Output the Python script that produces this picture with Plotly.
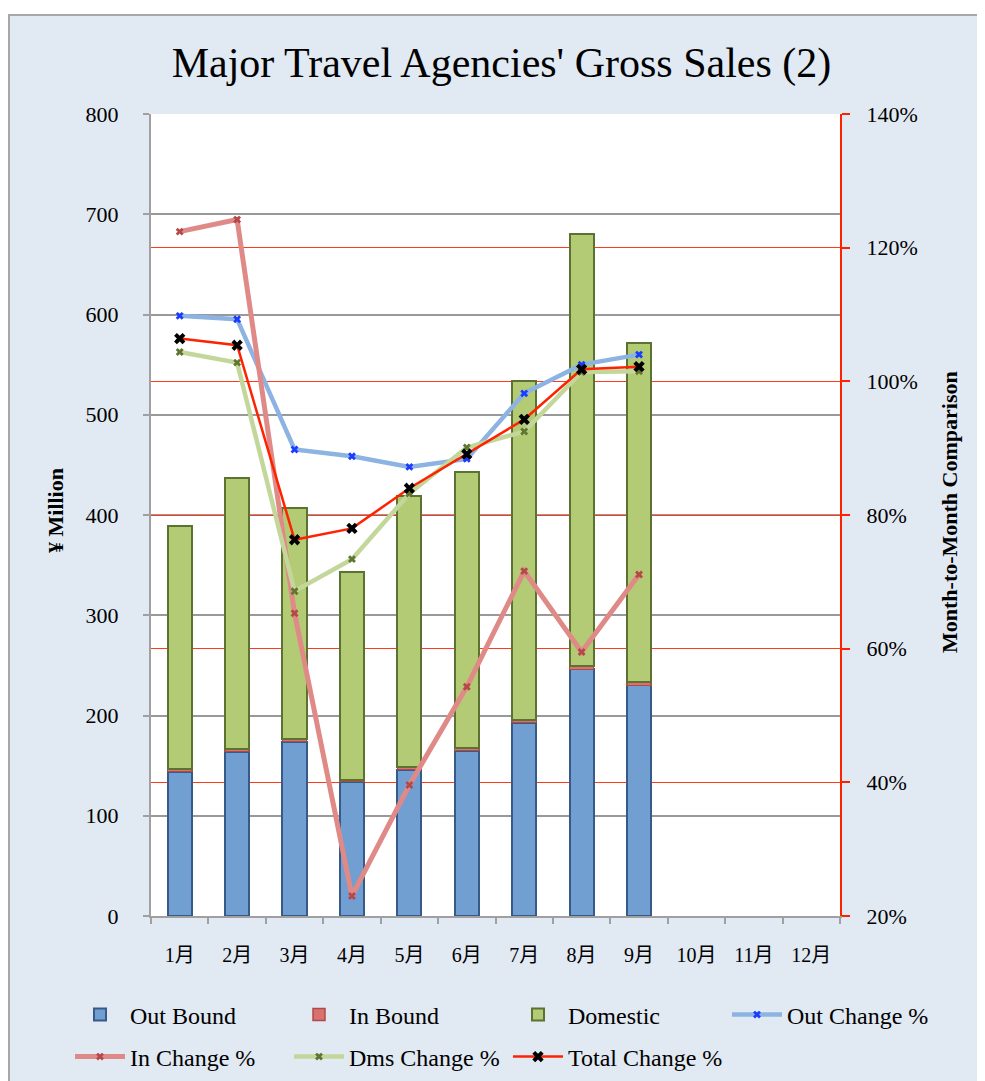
import plotly.graph_objects as go

# ---- data ----
months = ['1月', '2月', '3月', '4月', '5月', '6月', '7月', '8月', '9月', '10月', '11月', '12月']
data_months = months[:9]
out_bound = [144, 164, 174, 134, 146, 165, 193, 246, 230]
in_bound = [3, 3, 3, 2, 3, 3, 3, 3, 3]
domestic = [242, 270, 230, 207, 270, 275, 338, 431, 339]

out_chg = [109.8, 109.3, 89.8, 88.8, 87.2, 88.4, 98.2, 102.5, 104.0]
in_chg = [122.4, 124.2, 65.3, 23.0, 39.6, 54.3, 71.6, 59.5, 71.1]
dms_chg = [104.4, 102.8, 68.6, 73.4, 83.2, 90.1, 92.5, 101.4, 101.5]
total_chg = [106.4, 105.4, 76.3, 78.0, 84.0, 89.1, 94.3, 101.8, 102.2]

# ---- layout geometry (page pixels; the page body has an 8px margin) ----
OFF = 8
W, H = 985 - OFF, 1081 - OFF
PLOT_L, PLOT_R, PLOT_T, PLOT_B = 151, 840, 114, 916
ML = PLOT_L - OFF
MT = PLOT_T - OFF
MR = 10
GW = W - ML - MR
GH = PLOT_B - PLOT_T
MB = H - MT - GH


def px_x(p):
    """page x pixel -> paper x"""
    return (p - OFF - ML) / GW


def px_y(p):
    """page y pixel -> paper y"""
    return (PLOT_B - p) / GH


FONT = 'Liberation Serif, Noto Sans CJK JP, serif'
BG = '#E1E9F3'

fig = go.Figure()

fig.add_trace(go.Bar(name='Out Bound', x=data_months, y=out_bound,
                     marker=dict(color='#729FD2', line=dict(color='#375A88', width=2)),
                     legend='legend'))
fig.add_trace(go.Bar(name='In Bound', x=data_months, y=in_bound,
                     marker=dict(color='#D9726F', line=dict(color='#B04A47', width=1.5)),
                     legend='legend'))
fig.add_trace(go.Bar(name='Domestic', x=data_months, y=domestic,
                     marker=dict(color='#B3CB74', line=dict(color='#5C7230', width=2)),
                     legend='legend'))

fig.add_trace(go.Scatter(name='Out Change %', x=data_months, y=out_chg, yaxis='y2',
                         mode='lines+markers',
                         line=dict(color='#8DB3E2', width=4.5),
                         marker=dict(symbol='x', size=7, color='#1A3CFF', line=dict(width=0)),
                         legend='legend'))
fig.add_trace(go.Scatter(name='In Change %', x=data_months, y=in_chg, yaxis='y2',
                         mode='lines+markers',
                         line=dict(color='#E08A88', width=5),
                         marker=dict(symbol='x', size=7, color='#B5494A', line=dict(width=0)),
                         legend='legend2'))
fig.add_trace(go.Scatter(name='Dms Change %', x=data_months, y=dms_chg, yaxis='y2',
                         mode='lines+markers',
                         line=dict(color='#C3D79B', width=4.5),
                         marker=dict(symbol='x', size=7, color='#5F7530', line=dict(width=0)),
                         legend='legend2'))
fig.add_trace(go.Scatter(name='Total Change %', x=data_months, y=total_chg, yaxis='y2',
                         mode='lines+markers',
                         line=dict(color='#FF2200', width=2.5),
                         marker=dict(symbol='x', size=10, color='#000000', line=dict(width=0)),
                         legend='legend2'))

legend_common = dict(orientation='h', xanchor='left', yanchor='middle',
                     bgcolor='rgba(0,0,0,0)', borderwidth=0,
                     font=dict(family=FONT, size=24, color='#000000'),
                     itemwidth=50, entrywidth=154, entrywidthmode='pixels',
                     traceorder='normal')

fig.update_layout(
    width=W, height=H,
    margin=dict(l=ML, r=MR, t=MT, b=MB, autoexpand=False),
    paper_bgcolor=BG,
    plot_bgcolor='#FFFFFF',
    barmode='stack',
    bargap=0.58,
    font=dict(family=FONT, size=22, color='#000000'),
    title=dict(text="Major Travel Agencies' Gross Sales (2)",
               font=dict(family=FONT, size=42, color='#000000'),
               x=(501.5 - OFF) / W, xref='container', xanchor='center',
               y=1 - (62 - OFF) / H, yref='container', yanchor='middle'),
    xaxis=dict(type='category', categoryorder='array', categoryarray=months,
               range=[-0.5, 11.5], domain=[0, px_x(PLOT_R)],
               showline=True, linecolor='#A0A0A0', linewidth=2,
               ticks='outside', tickson='boundaries', ticklen=6, tickwidth=2, tickcolor='#A0A0A0',
               showgrid=False, tickfont=dict(family=FONT, size=20), ticklabelstandoff=20),
    yaxis=dict(range=[0, 800], dtick=100, showgrid=True, gridcolor='#999999', gridwidth=1.5,
               showline=True, linecolor='#A0A0A0', linewidth=2, zeroline=False,
               ticks='outside', ticklen=6, tickwidth=2, tickcolor='#A0A0A0',
               tickfont=dict(family=FONT, size=22), ticklabelstandoff=20),
    yaxis2=dict(range=[20, 140], dtick=20, ticksuffix='%', overlaying='y', side='right',
                anchor='x', showgrid=True, gridcolor='#FF3A1A', gridwidth=1,
                showline=True, linecolor='#FF2200', linewidth=2, zeroline=False,
                ticks='outside', ticklen=8, tickwidth=2, tickcolor='#FF2200',
                tickfont=dict(family=FONT, size=22), ticklabelstandoff=12),
    legend=dict(x=px_x(70), y=px_y(1015), **legend_common),
    legend2=dict(x=px_x(70), y=px_y(1057), **legend_common),
    showlegend=True,
)

# axis titles
fig.add_annotation(text='<b>¥ Million</b>', textangle=-90, xref='paper', yref='paper',
                   x=px_x(55), y=px_y(511), xanchor='center', yanchor='middle',
                   showarrow=False, font=dict(family=FONT, size=22, color='#000000'))
fig.add_annotation(text='<b>Month-to-Month Comparison</b>', textangle=-90, xref='paper', yref='paper',
                   x=px_x(950), y=px_y(512), xanchor='center', yanchor='middle',
                   showarrow=False, font=dict(family=FONT, size=22, color='#000000'))

# chart-area frame: white strip above and gray border
fig.add_shape(type='rect', xref='paper', yref='paper', x0=px_x(0), x1=px_x(1000),
              y0=px_y(15), y1=px_y(0), fillcolor='#FFFFFF', line=dict(width=0), layer='below')
fig.add_shape(type='line', xref='paper', yref='paper', x0=px_x(8), x1=px_x(1000),
              y0=px_y(15), y1=px_y(15), line=dict(color='#A8A8A8', width=2))
fig.add_shape(type='line', xref='paper', yref='paper', x0=px_x(9), x1=px_x(9),
              y0=px_y(15), y1=px_y(1100), line=dict(color='#A8A8A8', width=2))

fig.write_html('out.html')
